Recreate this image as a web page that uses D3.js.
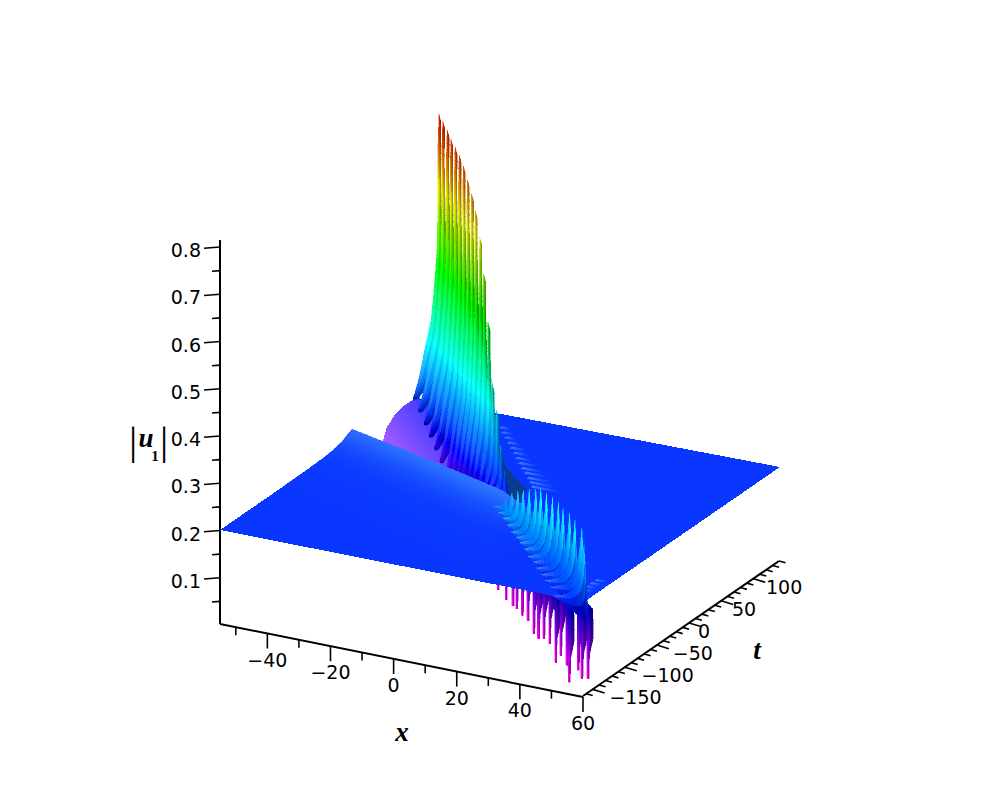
<!DOCTYPE html>
<html><head><meta charset="utf-8">
<script src="https://cdn.jsdelivr.net/npm/d3@7/dist/d3.min.js"></script>
<style>html,body{margin:0;background:#fff}svg{display:block}</style></head>
<body><svg id="c" width="1000" height="800"></svg>
<script>
// ---------- axis ticks
const xMajor=[-40,-20,0,20,40,60];
const xMinor=[-50,-30,-10,10,30,50];
const tMajor=[-150,-100,-50,0,50,100];
const tMinor=[-160,-140,-130,-120,-110,-90,-80,-70,-60,-40,-30,-20,-10,10,20,30,40,60,70,80,90,110,120,130,140];
const zMajor=[0.1,0.2,0.3,0.4,0.5,0.6,0.7,0.8];
const zMinor=[0.05,0.15,0.25,0.35,0.45,0.55,0.65,0.75];

// ---------- upper sheet: ribs that climb to the tall spikes (constant t)
const upX=[-44.9,-42.2,-39.3,-36.6,-33.8,-31,-28.2,-25.4,-22.6,-19.9,-17,-14.3,-11.4,-8.6,-5.8,-3,-.2];
const upT=[126,118.6,111.2,103.8,96.4,89,81.6,74.2,66.8,59.4,52,44.6,37.2,29.8,22.4,15,7.6];
const upTop=[.82,.817,.809,.80,.794,.788,.775,.756,.737,.712,.667,.60,.509,.39,.344,.28,.238];
const upFoot=[.21,.194,.178,.163,.147,.131,.116,.125,.132,.139,.146,.153,.158,.164,.171,.178,.185];
const upBack=[8.2,7.8,7.4,7,6.6,6.2,5.7,5.3,4.9,4.5,4.1,3.7,3.3,2.9,2.5,2,1.6];
const upLift=[0,.018,.088,.18,.23,.286,.38,.516,.69,.894,1];
const upBend=[1,.92,.73,.54,.42,.3,.2,.08,.04,.04,0];
const upWidth=[.3,.9,2.0,2.8,3.0,3.0,2.7,2.2,1.2,.8,.65];
const upDrop=[.004,.012,.026,.035,.04,.04,.04,.035,.03,.02,.016];
const upLight=[.62,.95,1.08,1.05,1,1,1,.96,.9,.88,.82];

// ---------- front ribs with the low cyan crests
const frX=[16.3,20.2,24.5,27,29.9,33.2,35.8,39,41.9,43.4,46.7,50,53.9,56.7,60];
const frT=[-71,-81,-93,-97,-102,-108,-113,-120,-125,-123,-132,-138,-149,-152,-165];
const frTop=[.27,.30,.32,.33,.34,.35,.36,.36,.36,.35,.35,.35,.35,.34,.32];
const frFoot=[.252,.253,.257,.249,.242,.24,.236,.233,.225,.213,.212,.208,.21,.202,.2];
const frBack=[3.8,4.3,4.8,5.2,5.7,6.2,6.7,7.1,7.6,8.1,8.6,9,9.5,10,9.8];
const frSag=[.5,.7,.8,.9,1,1.1,1.15,1.2,1.25,1.3,1.3,1.3,1.3,1.3,1.1];
const frLift=[0,.03,.09,.2,.43,.7,1];
const frBend=[1,.8,.53,.35,.16,.06,0];
const frWidth=[.2,.8,1.3,1.6,1.8,1.5,1.0];
const frDrop=[.002,.01,.03,.05,.08,.1,.1];
const frLight=[1.35,1.15,1,.95,.95,1,1];

// ---------- lower spikes hanging below the plane
const loX=[5.6,11.1,14.9,16.9,20.7,23.9,30,32.9,34.2,37.4,45.6,44.4,49.4,55,54,57.8,59.3];
const loT=[-32,-47,-55,-59,-69,-76,-97,-104,-102,-109,-140,-126,-141,-165,-146,-159,-157];
const loTip=[.03,.03,.03,.03,.03,.03,.03,.03,.03,.03,.03,.03,.03,.024,.03,.03,.03];
const loLift=[0,.3,.5,.65,.88,.95,1];
const loBend=[0,0,0,0,.05,.5,1];
const loWidth=[.65,.85,1.9,2,2,2,2];

// ---------- hump crest and its front slope
const humpX=[-55,-45,-35,-25,-15,-5,5,15,25];
const humpT=[40.6,30,20,9.3,-1,-11.5,-22,-32,-42];
const humpZ=[.221,.223,.225,.226,.228,.229,.23,.215,.2];
const slopeDt=[0,8,16,30,46,76,107];
const slopeFrac=[1,.75,.45,.2,.08,.02,0];

// ---------- trough behind the hump
const domeX=[-55,-55,-55,-55,-55,-28.6,-32.6,-55];
const domeT=[88,94,107,123,140,98,86.6,90];
const domeZ=[.149,.173,.189,.195,.194,.2,.1,.13];

// ---------- outline of the z = 0.2 sheet (the far left edge follows the trough)
const sheetX=[-55,-55,-55,-55,-55,-55,-55,60,60];
const sheetT=[-165,40,88,94,107,123,140,140,-165];
const sheetZ=[.2,.2,.149,.173,.189,.195,.194,.2,.2];

// ---------- small ripples on the plane
const ripX=[-22.7,-20.5,-18,-15.5,-13,-10.5,-8,-5.5,-3,-.5,2,4,6,55,55,55,55];
const ripT=[111,103,95,87,79,71,63,55,47,40,32,25,18,-145,-138,-131,-124];
const ripLen=[2.5,3,3,3.5,4,4,4.5,5,5.5,6,6.5,7,8,3,3,3,3];
const shadowX=[-16.7,-6.7,6,8.8,2.7];
const shadowT=[81,43,12,-18,-16];

// ---------- scales
const sxX=d3.scaleLinear().domain([-55,60]).range([220,583]);
const syX=d3.scaleLinear().domain([-55,60]).range([624,697]);
const sxT=d3.scaleLinear().domain([-165,140]).range([583,779]);
const syT=d3.scaleLinear().domain([-165,140]).range([696,561]);
const syZ=d3.scaleLinear().domain([0,.8]).range([625,247]);
// surface basis (z = 0.2 plane)
const pxX=d3.scaleLinear().domain([-55,60]).range([0,364]);
const pyX=d3.scaleLinear().domain([-55,60]).range([0,72]);
const pxT=d3.scaleLinear().domain([-165,140]).range([0,196]);
const pyT=d3.scaleLinear().domain([-165,140]).range([0,-135]);
const pyZ=d3.scaleLinear().domain([.2,1.2]).range([0,-473]);
const hue=d3.scaleLinear().domain([.04,.2,.83]).range([300,229,0]).clamp(true);
const P=(x,t,z)=>[220+pxX(x)+pxT(t),530+pyX(x)+pyT(t)+pyZ(z)];
const color=(z,L)=>d3.hsl(hue(z),1,Math.min(.95,L)).formatHex();
const planeL=.52;

const svg=d3.select("#c");
const surf=svg.append("g").attr("shape-rendering","crispEdges");
const ax=svg.append("g");

function cell(g,pts,fill){
  g.append("polygon").attr("points",pts.map(p=>p.map(v=>v.toFixed(1)).join(",")).join(" "))
   .attr("fill",fill).attr("stroke",fill).attr("stroke-width",.4);
}
function rib(g,o){
  const bend=d3.scaleLinear().domain(o.lift).range(o.bendP);
  const wid=d3.scaleLinear().domain(o.lift).range(o.width);
  const drop=d3.scaleLinear().domain(o.lift).range(o.drop);
  const lig=d3.scaleLinear().domain(o.lift).range(o.light);
  const pt=(p,u)=>{
    const x=o.x-o.back*bend(p)+u*wid(p);
    const z=o.z0+p*(o.z1-o.z0)-u*drop(p)*(o.sag||1);
    return [x,z];
  };
  const ps=d3.range(o.n+1).map(i=>{const f=i/o.n;return f*f*.25+f*.75;});
  const J=o.shade.length;
  for(let a=0;a<o.n;a++){
    for(let j=0;j<J;j++){
      const q=[pt(ps[a],j/J),pt(ps[a],(j+1)/J),pt(ps[a+1],(j+1)/J),pt(ps[a+1],j/J)];
      const zm=d3.mean(q,d=>d[1]);
      cell(g,q.map(d=>P(d[0],o.t,d[1])),color(zm,o.shade[j]*lig((ps[a]+ps[a+1])/2)));
    }
  }
}

// lower spikes (the plane hides their upper part)
const gLow=surf.append("g");
loX.forEach((x,i)=>{
  rib(gLow,{x:x,t:loT[i],z0:loTip[i],z1:.2,back:4,n:30,lift:loLift,bendP:loBend,
    width:loWidth,drop:loLift.map(()=>0),light:[1,1,.85,.8,.8,.85,.9],shade:[.5,.34]});
});

// sheet
surf.append("polygon").attr("points",sheetX.map((x,i)=>P(x,sheetT[i],sheetZ[i]).join(",")).join(" "))
  .attr("fill",d3.hsl(hue(.2),1,planeL).formatHex());

// ripples on the plane
ripX.forEach((x,i)=>{
  const n=6;
  d3.range(n).forEach(k=>{
    const a=x+ripLen[i]*k/n,b=x+ripLen[i]*(k+1)/n,w=3.5;
    const f=1-k/n;
    cell(surf,[P(a,ripT[i],.2),P(b,ripT[i],.2),P(b,ripT[i]+w,.2),P(a,ripT[i]+w,.2)],
      d3.hsl(hue(.2+.02*f),1,planeL+.1*f).formatHex());
  });
});
surf.append("polygon").attr("points",shadowX.map((x,i)=>P(x,shadowT[i],.2).join(",")).join(" ")).attr("fill","#0b3a8f");

// trough behind the hump
const defs=svg.append("defs");
const gA=P(-40,125,.195),gB=P(-50,80,.13);
const lg=defs.append("linearGradient").attr("id","dome").attr("gradientUnits","userSpaceOnUse")
  .attr("x1",gA[0]).attr("y1",gA[1]).attr("x2",gB[0]).attr("y2",gB[1]);
lg.append("stop").attr("offset",0).attr("stop-color",d3.hsl(hue(.19),1,.55).formatHex());
lg.append("stop").attr("offset",1).attr("stop-color",d3.hsl(hue(.11),1,.68).formatHex());
surf.append("polygon").attr("points",domeX.map((x,i)=>P(x,domeT[i],domeZ[i]).join(",")).join(" ")).attr("fill","url(#dome)");

// upper ribs, back to front
const gUp=surf.append("g");
upX.forEach((x,i)=>rib(gUp,{x:x,t:upT[i],z0:upFoot[i],z1:upTop[i],back:upBack[i],n:56,
  lift:upLift,bendP:upBend,width:upWidth,drop:upDrop,light:upLight,shade:[.53,.46,.36]}));

// hump
const gH=surf.append("g");
for(let i=0;i<humpX.length-1;i++){
  const sub=6;
  for(let s=0;s<sub;s++){
    const f0=s/sub,f1=(s+1)/sub;
    const lerp=(a,b,f)=>a+(b-a)*f;
    for(let j=slopeDt.length-2;j>=0;j--){
      const steps=6;
      for(let q=0;q<steps;q++){
        const d0=lerp(slopeDt[j],slopeDt[j+1],q/steps),d1=lerp(slopeDt[j],slopeDt[j+1],(q+1)/steps);
        const r0=lerp(slopeFrac[j],slopeFrac[j+1],q/steps),r1=lerp(slopeFrac[j],slopeFrac[j+1],(q+1)/steps);
        const v=(f,d,r)=>{const x=lerp(humpX[i],humpX[i+1],f),t=lerp(humpT[i],humpT[i+1],f),z=lerp(humpZ[i],humpZ[i+1],f);
          return {x:x,t:t-d,z:.2+(z-.2)*r};};
        const c=[v(f0,d0,r0),v(f1,d0,r0),v(f1,d1,r1),v(f0,d1,r1)];
        const zm=d3.mean(c,e=>e.z),rm=(r0+r1)/2;
        const crest=lerp(humpZ[i],humpZ[i+1],(f0+f1)/2)-.2;
        cell(gH,c.map(e=>P(e.x,e.t,e.z)),d3.hsl(hue(zm),1,planeL+.07*rm*Math.min(1,crest/.02)).formatHex());
      }
    }
  }
}

// front ribs, back to front
const gF=surf.append("g");
frX.forEach((x,i)=>rib(gF,{x:x,t:frT[i],z0:frFoot[i],z1:frTop[i],back:frBack[i],n:30,sag:frSag[i],
  lift:frLift,bendP:frBend,width:frWidth,drop:frDrop,light:frLight,shade:[.52,.45,.37]}));

// ---------- axes
const line=(x1,y1,x2,y2,w)=>ax.append("line").attr("x1",x1).attr("y1",y1).attr("x2",x2).attr("y2",y2)
  .attr("stroke","#000").attr("stroke-width",w);
const xyX=x=>[sxX(x),syX(x)], xyT=t=>[sxT(t),syT(t)];
const label=(s,x,y,a)=>ax.append("text").text(s).attr("x",x).attr("y",y).attr("text-anchor",a)
  .attr("font-family","DejaVu Sans").attr("font-size",19).attr("fill","#000");
// z axis
line(220,240,220,624,2);
zMajor.forEach(v=>{const y=syZ(v);line(204,y+1.3,220,y,1.6);label(v.toFixed(1),201,y+10,"end");});
zMinor.forEach(v=>{const y=syZ(v);line(212,y+.6,220,y,1.6);});
// x axis
line(220,624,583,697,2);
xMajor.forEach(v=>{const [a,b]=xyX(v);line(a,b,a,b+15,1.6);label((v<0?"\u2212":"")+Math.abs(v),a,b+33,"middle");});
xMinor.forEach(v=>{const [a,b]=xyX(v);line(a,b,a,b+8,1.6);});
// t axis
line(583,696,779,561,2);
const tLabelDx=[69,69,56,21,35,49];
tMajor.forEach((v,i)=>{const [a,b]=xyT(v);line(a,b,a+12,b+3.6,1.6);label((v<0?"\u2212":"")+Math.abs(v),a+tLabelDx[i],b+15,"end");});
tMinor.forEach(v=>{const [a,b]=xyT(v);line(a,b,a+6.5,b+1.8,1.6);});
// axis titles
const title=(s,x,y,fs,st,wt,a)=>ax.append("text").text(s).attr("x",x).attr("y",y).attr("font-size",fs)
  .attr("font-family","Liberation Serif").attr("font-style",st).attr("font-weight",wt).attr("text-anchor",a||"middle").attr("fill","#000");
title("x",402,741,27,"italic","bold");
title("t",757,659,27,"italic","bold");
title("|",133,454,41,"normal","normal");
title("|",164,454,41,"normal","normal");
title("u",146,447,27,"italic","bold");
title("1",155,461,15,"normal","bold");
</script></body></html>
